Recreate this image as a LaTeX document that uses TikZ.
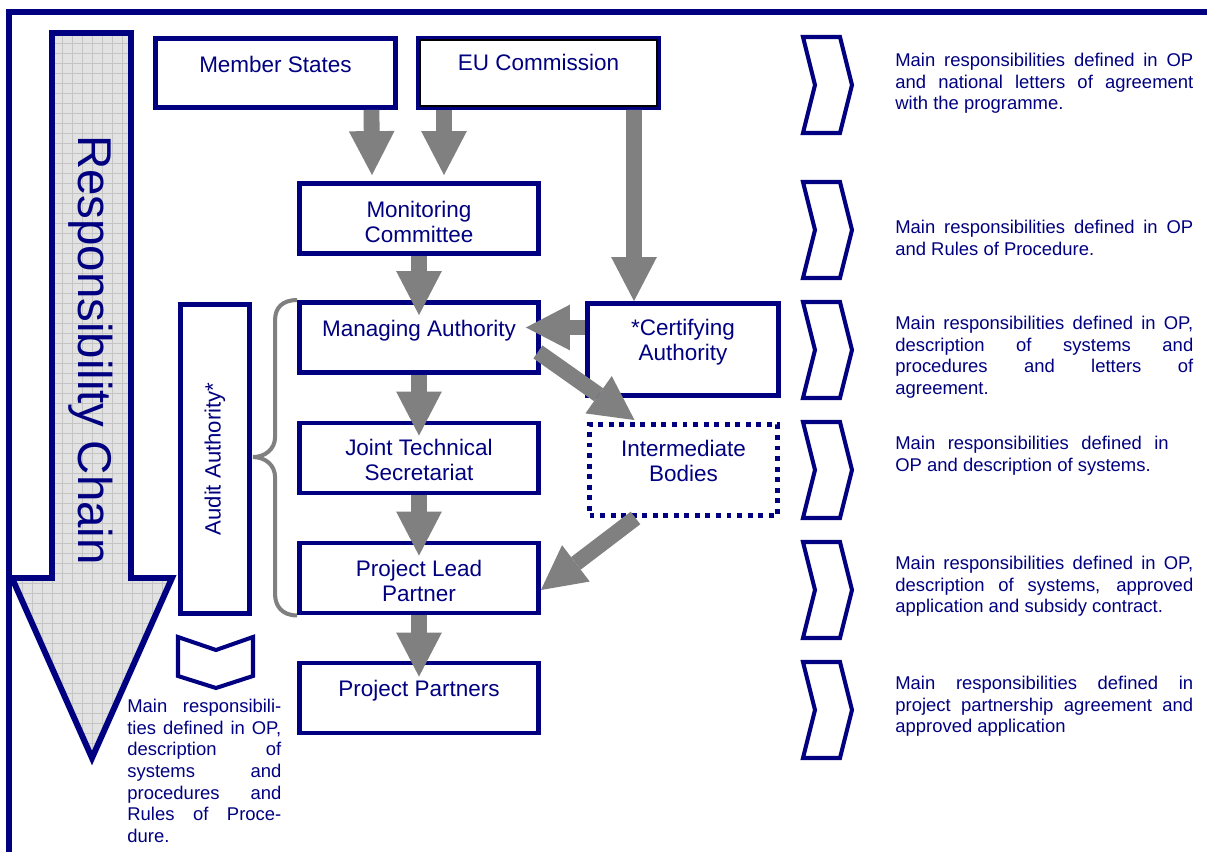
\documentclass[tikz,border=0pt]{standalone}
\usepackage{fontspec}
\setmainfont{Liberation Sans}
\usepackage{xcolor}
\usepackage{tikz}
\usetikzlibrary{positioning,arrows.meta,calc}
\definecolor{navy}{RGB}{0,0,128}
\definecolor{arrowgray}{RGB}{128,128,128}
\definecolor{chainfill}{RGB}{226,226,226}
\definecolor{chaingrid}{RGB}{196,196,196}
\setlength{\parindent}{0pt}
\tolerance=10000
\hbadness=10000

\begin{document}
\begin{tikzpicture}[x=0.02cm, y=-0.02cm,
    box/.style={draw=navy, fill=white, line width=2.8pt, text=navy, align=center, inner sep=2pt,
        minimum width=4.78cm, minimum height=1.4cm, font=\fontsize{12.8}{14.2}\selectfont},
    dotbox/.style={box, dash pattern=on 2.8pt off 3.2pt},
    flow/.style={draw=arrowgray, line width=9pt, -{Triangle[width=26pt,length=25pt,line width=0pt]}},
    auditbrace/.style={draw=arrowgray, line width=2.3pt},
    chevron/.style={draw=navy, line width=2.3pt, line join=miter},
    note/.style={text=navy, align=justify, inner sep=0pt, font=\fontsize{10.5}{12.3}\selectfont}]
        \useasboundingbox (0,0) rectangle (1207,852);

        % Chain arrow
        \begin{scope}
            \clip (52,33) -- (131,33) -- (131,578) -- (172,578) -- (92,758) -- (12,578) -- (52,578) -- cycle;
            \fill[chainfill] (0,0) rectangle (200,800);
            \foreach \gx in {12,22,...,172} \draw[chaingrid, line width=0.4pt] (\gx,30) -- (\gx,770);
            \foreach \gy in {33,43,...,763} \draw[chaingrid, line width=0.4pt] (10,\gy) -- (175,\gy);
        \end{scope}
        \draw[navy, line width=3.4pt, line join=miter] (52,33) -- (131,33) -- (131,578) -- (172,578) -- (92,758) -- (12,578) -- (52,578) -- cycle;
        \node[rotate=-90, text=navy, font=\fontsize{27}{30}\selectfont] (chain) at (91,350) {Responsibility Chain};

        % Frame
        \draw[navy, line width=3.4pt] (9,870) -- (9,12) -- (1220,12);

        % Boxes
        \node[box, minimum width=4.8cm, minimum height=1.38cm, text depth=10pt] (ms) at (275.5,73) {Member States};
        \node[box, minimum width=4.8cm, minimum height=1.38cm, text depth=12pt] (ec) at (538.5,73) {EU Commission};
        \draw[black, line width=1.3pt] ($(ec.north west)+(4,4)$) rectangle ($(ec.south east)+(-4,-4)$);
        \node[box, text height=27pt] (mc) at (419,218.5) {Monitoring\\Committee};
        \node[box, text depth=10.5pt] (ma) at (419,337.5) {Managing Authority};
        \node[box, minimum width=3.82cm, minimum height=1.84cm, text depth=10.5pt] (ca) at (683,349.5) {*Certifying\\Authority};
        \node[box, text height=26pt] (jts) at (419,458) {Joint Technical\\Secretariat};
        \node[dotbox, minimum width=3.76cm, minimum height=1.82cm, text depth=10pt] (ib) at (683.5,470) {Intermediate\\Bodies};
        \node[box, text height=27pt] (plp) at (419,578) {Project Lead\\Partner};
        \node[box, text depth=11pt] (pp) at (419,698) {Project Partners};
        \node[box, rotate=90, minimum width=6.18cm, minimum height=1.38cm, font=\fontsize{12.6}{14}\selectfont] (aa) at (215,459) {Audit Authority*};

        % Brace
        \draw[auditbrace] (ma.north west) .. controls +(-15,0) and +(0,-12) .. ++(-22,20) -- ++(0,117)
            .. controls +(0,12) and +(12,0) .. ++(-22,20) .. controls +(12,0) and +(0,-12) .. ++(22,20)
            -- ++(0,117) .. controls +(0,12) and +(-15,0) .. (plp.south west);

        % Arrows
        \draw[flow] ($(ms.south)+(96,0)$) -- ($(mc.north)+(-47,-6)$);
        \draw[flow] ($(ec.south)+(-94.5,0)$) -- ($(mc.north)+(25,-6)$);
        \draw[flow] ($(ec.south)+(95.5,0)$) -- ($(ca.north)+(-49,0)$);
        \draw[flow] (mc.south) -- ($(ma.north)+(0,15)$);
        \draw[flow] (ma.south) -- ($(jts.north)+(0,15)$);
        \draw[flow] (jts.south) -- ($(plp.north)+(0,15)$);
        \draw[flow] (plp.south) -- ($(pp.north)+(0,16)$);
        \draw[flow] ($(ca.west)+(0,-22)$) -- ($(ma.east)+(-15,-10)$);
        \draw[flow] ($(ma.south east)+(-3,-23)$) -- ($(ib.north)+(-49,-2)$);
        \draw[flow] ($(ib.south)+(-48,0)$) -- ($(plp.east)+(0,12)$);

        % Chevrons
        \foreach \cy in {37,182,302,422,542,662}
            \draw[chevron] (803,\cy) -- ++(37,0) -- ++(12,48) -- ++(-12,48) -- ++(-37,0) -- ++(12,-48) -- cycle;
        \draw[chevron] (178,637) -- (216,650) -- (253,637) -- (253,676) -- (216,688) -- (178,676) -- cycle;

        % Notes
        \node[note, text width=5.96cm, anchor=north west] (n1) at (895,53) {Main responsibilities defined in OP\linebreak and national letters of agreement\linebreak with the programme.};
        \node[note, text width=5.96cm, anchor=north west] (n2) at (895,220) {Main responsibilities defined in OP\linebreak and Rules of Procedure.};
        \node[note, text width=5.96cm, anchor=north west] (n3) at (895,316) {Main responsibilities defined in OP,\linebreak description of systems and\linebreak procedures and letters of\linebreak agreement.};
        \node[note, text width=5.96cm, anchor=north west] (n4) at (895,436) {Main responsibilities defined in\hspace*{14pt}\linebreak OP and description of systems.};
        \node[note, text width=5.96cm, anchor=north west] (n5) at (895,556) {Main responsibilities defined in OP,\linebreak description of systems, approved\linebreak application and subsidy contract.};
        \node[note, text width=5.96cm, anchor=north west] (n6) at (895,676) {Main responsibilities defined in\linebreak project partnership agreement and\linebreak approved application};
        \node[note, text width=3.08cm, anchor=north west] (n7) at (127,699) {Main responsibili-\linebreak ties defined in OP,\linebreak description of\linebreak systems and\linebreak procedures and\linebreak Rules of Proce-\linebreak dure.};
    \end{tikzpicture}
\end{document}
